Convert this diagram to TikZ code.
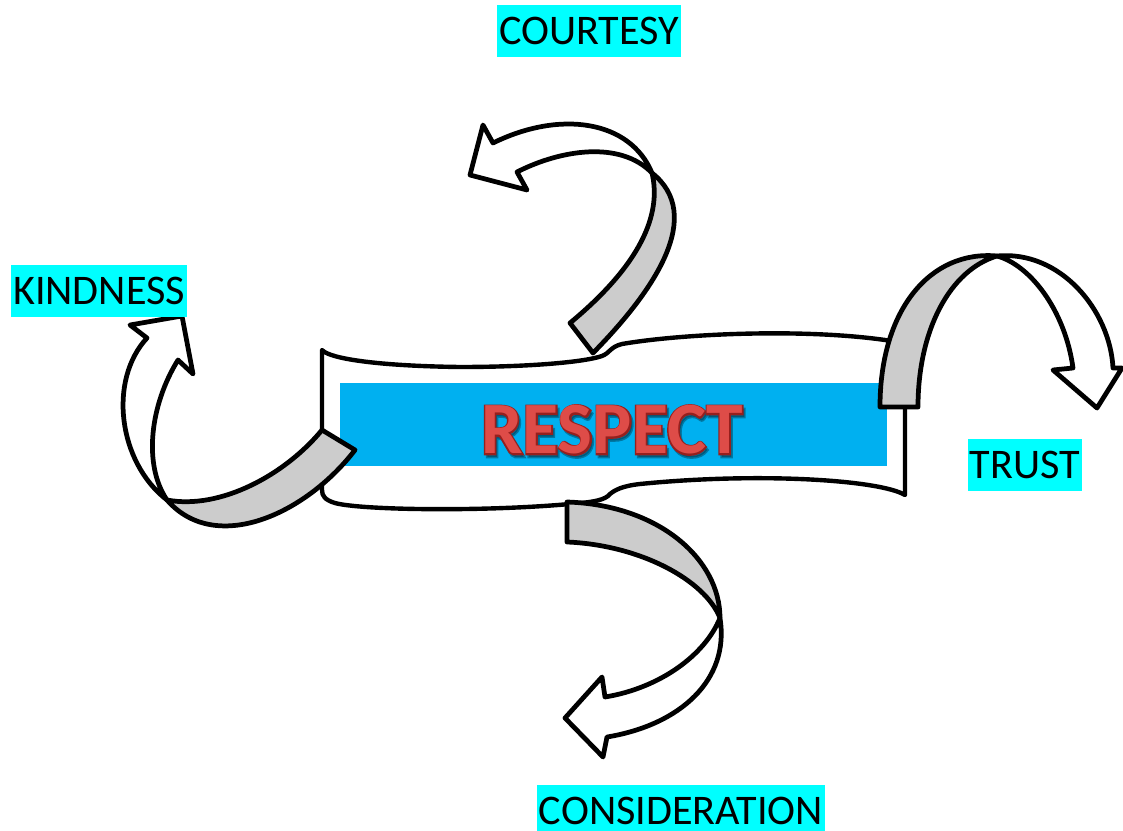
\documentclass[tikz,border=0pt]{standalone}
\usepackage{fontspec}
\setmainfont{Carlito}
\newfontface\thickface{Carlito Bold}[FakeBold=4]
\usetikzlibrary{positioning}
\definecolor{tagcyan}{RGB}{0,255,255}
\definecolor{bannerblue}{RGB}{0,176,240}
\definecolor{bandgray}{RGB}{204,204,204}
\definecolor{respectred}{RGB}{222,76,72}
\definecolor{respectdark}{RGB}{150,32,30}

\begin{document}
\begin{tikzpicture}[
    x=0.02cm, y=-0.02cm,
    tagbox/.style={fill=tagcyan, font=\fontsize{24}{28}\selectfont, minimum height=1.04cm,
                   inner xsep=1.2pt, inner ysep=0pt},
    ribbon/.style={draw=black, line width=2.5pt, line join=round, fill=white},
    band/.style={draw=black, line width=2.7pt, line join=round, fill=bandgray},
    tail/.style={draw=black, line width=2.7pt, line join=round, fill=white},
    word/.style={font=\fontsize{42}{48}\selectfont\bfseries, inner sep=0pt}
]
    \useasboundingbox (0,0) rectangle (1123,831);

    % banner
    \draw[ribbon] (322,350) .. controls (330,359) and (380,366) .. (460,367)
        .. controls (530,367) and (585,362) .. (602,356)
        .. controls (610,353) and (610,347) .. (622,344)
        .. controls (680,334) and (800,328) .. (885,340)
        -- (905,343) -- (905,495)
        .. controls (880,480) and (760,472) .. (640,484)
        .. controls (622,486) and (615,490) .. (610,494)
        .. controls (605,500) and (595,502) .. (570,504)
        .. controls (480,512) and (360,510) .. (335,503)
        .. controls (325,500) and (322,496) .. (322,490) -- cycle;
    \fill[bannerblue] (340,383) rectangle (887,466);

    % title with a simple bevel
    \node[word, font=\fontsize{42}{48}\thickface, text=black!70!bannerblue, opacity=0.45] (shadow) at (614,433) {RESPECT};
    \node[word, font=\fontsize{42}{48}\thickface, text=respectdark] (rim) at (612,430) {RESPECT};
    \node[word, text=respectred] (respect) at (612,430) {RESPECT};

    % kindness arrow
    \draw[tail] (167,500) .. controls (118,462) and (108,380) .. (147,338)
        -- (130,325) -- (182,316) -- (193,374) -- (178,360)
        .. controls (150,405) and (143,465) .. (167,500) -- cycle;
    \draw[band] (322,430) -- (355,450)
        .. controls (305,515) and (215,555) .. (167,500)
        .. controls (220,510) and (285,475) .. (322,430) -- cycle;

    % courtesy arrow
    \draw[tail] (652,173) .. controls (630,120) and (560,110) .. (493,143)
        -- (483,125) -- (470,175) -- (527,190) -- (517,172)
        .. controls (560,150) and (620,140) .. (652,173) -- cycle;
    \draw[band] (570,323) -- (593,353)
        .. controls (655,290) and (705,215) .. (652,173)
        .. controls (662,215) and (640,265) .. (570,323) -- cycle;

    % trust arrow
    \draw[tail] (997,256) .. controls (1060,250) and (1110,310) .. (1113,368)
        -- (1122,368) -- (1097,408) -- (1053,370) -- (1073,368)
        .. controls (1065,310) and (1030,265) .. (997,256) -- cycle;
    \draw[band] (880,407) -- (918,407)
        .. controls (918,330) and (950,270) .. (997,256)
        .. controls (930,250) and (880,310) .. (880,407) -- cycle;

    % consideration arrow
    \draw[tail] (720,618) .. controls (730,680) and (680,725) .. (607,737)
        -- (603,757) -- (565,718) -- (602,677) -- (605,697)
        .. controls (660,688) and (705,655) .. (720,618) -- cycle;
    \draw[band] (567,502) -- (567,542)
        .. controls (640,545) and (705,580) .. (720,618)
        .. controls (720,560) and (660,505) .. (567,502) -- cycle;

    % labels
    \node[tagbox] (courtesy) at (589,31) {COURTESY};
    \node[tagbox] (kindness) at (99,291) {KINDNESS};
    \node[tagbox] (trust) at (1025,465) {TRUST};
    \node[tagbox] (consideration) at (681,811) {CONSIDERATION};
\end{tikzpicture}
\end{document}
